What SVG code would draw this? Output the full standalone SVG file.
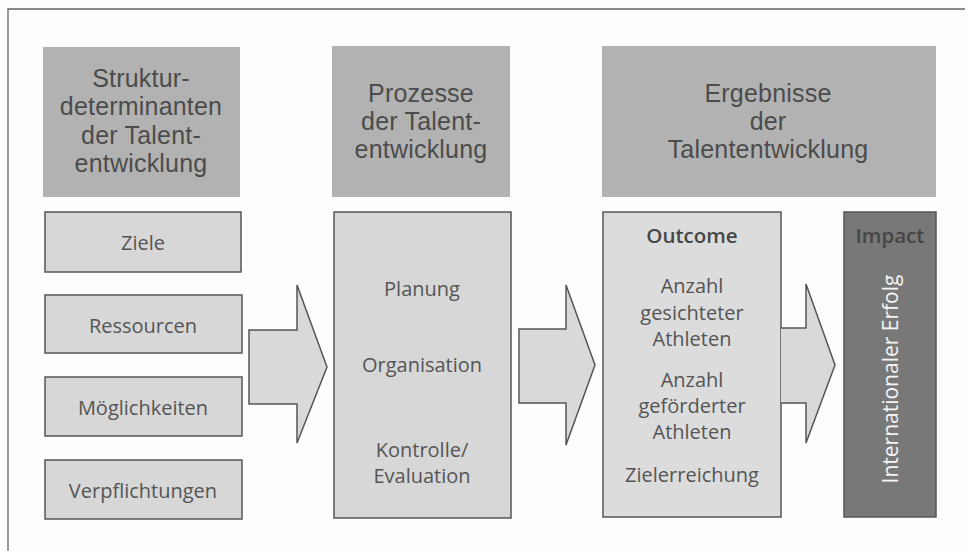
<svg xmlns="http://www.w3.org/2000/svg" width="970" height="551" viewBox="0 0 970 551">
<style>
.hdr{fill:#b2b2b2}
.hdrt{font-family:"Liberation Sans",Arial,sans-serif;font-size:25px;letter-spacing:0.2px;fill:#4c4c4c;text-anchor:middle}
.box{fill:#d7d7d7;stroke:#555;stroke-width:1.5}
.t{font-family:"Open Sans","Noto Sans",sans-serif;font-size:20px;fill:#555;text-anchor:middle}
.b{font-weight:600;fill:#474747;font-size:20.5px}
.arr{fill:#d9d9d9;stroke:#555;stroke-width:1.5;stroke-linejoin:miter}
</style>
<rect width="970" height="551" fill="#fdfdfd"/>
<path d="M8,551 V9 H965" fill="none" stroke="#666" stroke-width="1.3"/>

<g id="hdr-struktur">
<rect class="hdr" x="43" y="47" width="197" height="150"/>
<text class="hdrt"><tspan x="141" y="87">Struktur-</tspan><tspan x="141" dy="28.3">determinanten</tspan><tspan x="141" dy="28.3">der Talent-</tspan><tspan x="141" dy="28.3">entwicklung</tspan></text>
</g>
<g id="hdr-prozesse">
<rect class="hdr" x="332" y="46" width="178" height="151"/>
<text class="hdrt"><tspan x="421" y="102">Prozesse</tspan><tspan x="421" dy="28">der Talent-</tspan><tspan x="421" dy="28">entwicklung</tspan></text>
</g>
<g id="hdr-ergebnisse">
<rect class="hdr" x="602" y="46" width="334" height="151"/>
<text class="hdrt"><tspan x="768" y="102">Ergebnisse</tspan><tspan x="768" dy="28">der</tspan><tspan x="768" dy="28">Talententwicklung</tspan></text>
</g>

<g id="ziele">
<rect class="box" x="45" y="212" width="196" height="60"/>
<text class="t" x="143" y="250">Ziele</text>
</g>
<g id="ressourcen">
<rect class="box" x="45" y="295" width="197" height="58"/>
<text class="t" x="143" y="333">Ressourcen</text>
</g>
<g id="moeglichkeiten">
<rect class="box" x="45" y="377" width="197" height="59"/>
<text class="t" x="143" y="415">Möglichkeiten</text>
</g>
<g id="verpflichtungen">
<rect class="box" x="45" y="460" width="197" height="59"/>
<text class="t" x="143" y="498">Verpflichtungen</text>
</g>

<g id="prozesse">
<rect class="box" x="334" y="212" width="177" height="306"/>
<text class="t" x="422" y="296">Planung</text>
<text class="t" x="422" y="372">Organisation</text>
<text class="t"><tspan x="422" y="457">Kontrolle/</tspan><tspan x="422" dy="26">Evaluation</tspan></text>
</g>

<g id="outcome">
<rect class="box" x="603" y="212" width="178" height="305" style="fill:#dcdcdc"/>
<text class="t b" x="692" y="243">Outcome</text>
<text class="t"><tspan x="692" y="293">Anzahl</tspan><tspan x="692" dy="26.5">gesichteter</tspan><tspan x="692" dy="26.5">Athleten</tspan></text>
<text class="t"><tspan x="692" y="387">Anzahl</tspan><tspan x="692" dy="26">geförderter</tspan><tspan x="692" dy="26">Athleten</tspan></text>
<text class="t" x="692" y="482">Zielerreichung</text>
</g>

<g id="impact">
<rect x="844" y="212" width="92" height="305" fill="#787878" stroke="#555" stroke-width="1.5"/>
<text class="t b" x="890" y="243" style="fill:#454545">Impact</text>
<text class="t" transform="translate(898,379) rotate(-90)" x="0" y="0" style="fill:#f4f4f4;font-size:21px">Internationaler Erfolg</text>
</g>

<g id="connectors">
<path class="arr" d="M249,330 H297 V285 L327,367 L297,443 V404 H249 Z"/>
<path class="arr" d="M519,329 H566 V285 L595,365 L566,445 V403 H519 Z"/>
<path class="arr" d="M781,328 H806 V284 L835,365 L806,443 V403 H781"/>
</g>
</svg>
